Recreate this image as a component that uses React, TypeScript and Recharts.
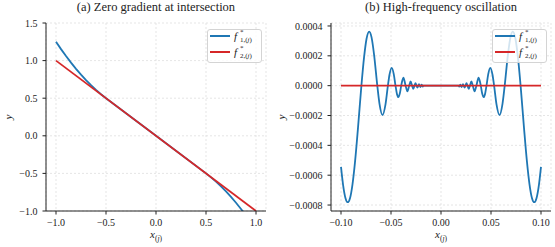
import React from 'react';
import { LineChart, Line, XAxis, YAxis, CartesianGrid, Legend, Label } from 'recharts';

const BLUE = '#1f77b4';
const RED = '#d62728';
const FONT = '"Liberation Serif", "Times New Roman", serif';

// (a) Zero gradient at intersection
const xA1 = [-1, -0.95, -0.9, -0.85, -0.8, -0.75, -0.7, -0.65, -0.6, -0.55, -0.5, 0, 0.5, 0.55, 0.6, 0.65, 0.7, 0.75, 0.8, 0.85, 0.9, 0.95, 1];
const yA1 = [1.25, 1.1525, 1.06, 0.9725, 0.89, 0.8125, 0.74, 0.6725, 0.61, 0.5525, 0.5, 0, -0.5, -0.5525, -0.61, -0.6725, -0.74, -0.8125, -0.89, -0.9725, -1.06, -1.1525, -1.25];
const xA2 = [-1, 1];
const yA2 = [1, -1];
const xTicksA = [-1, -0.5, 0, 0.5, 1];
const yTicksA = [-1, -0.5, 0, 0.5, 1, 1.5];

// (b) High-frequency oscillation
const xB1 = [
  -0.1, -0.098, -0.0955, -0.0933, -0.091, -0.0885, -0.086, -0.083, -0.0796, -0.077, -0.0745, -0.0718,
  -0.0695, -0.067, -0.0637, -0.0615, -0.0585, -0.0555, -0.0531, -0.0515, -0.0493, -0.0472, -0.0455, -0.044,
  -0.0427, -0.0412, -0.0398, -0.0376, -0.0354, -0.0336, -0.0318, -0.0304, -0.0289, -0.0277, -0.0265, -0.0255,
  -0.0245, -0.0236, -0.0227, -0.022, -0.0212, -0.0206, -0.0199, -0.0193, -0.0187, -0.0182, -0.0177, -0.01,
  0,
  0.01, 0.0177, 0.0182, 0.0187, 0.0193, 0.0199, 0.0206, 0.0212, 0.022, 0.0227, 0.0236, 0.0245,
  0.0255, 0.0265, 0.0277, 0.0289, 0.0304, 0.0318, 0.0336, 0.0354, 0.0376, 0.0398, 0.0412, 0.0427,
  0.044, 0.0455, 0.0472, 0.0493, 0.0515, 0.0531, 0.0555, 0.0585, 0.0615, 0.0637, 0.067, 0.0695,
  0.0718, 0.0745, 0.077, 0.0796, 0.083, 0.086, 0.0885, 0.091, 0.0933, 0.0955, 0.098, 0.1,
];
const yB1 = [
  -5.44e-4, -6.61e-4, -7.54e-4, -7.81e-4, -7.54e-4, -6.61e-4, -5.13e-4, -2.83e-4, 0, 1.86e-4, 3.13e-4, 3.62e-4,
  3.25e-4, 2.12e-4, 0, -1.22e-4, -1.97e-4, -1.26e-4, 0, 7.3e-5, 1.19e-4, 7.6e-5, 0, -5.7e-5,
  -7.7e-5, -5.3e-5, 0, 5.3e-5, 0, -3.8e-5, 0, 2.8e-5, 0, -2.1e-5, 0, 1.7e-5,
  0, -1.3e-5, 0, 1.1e-5, 0, -9e-6, 0, 7e-6, 0, -6e-6, 0, 0,
  0,
  0, 0, -6e-6, 0, 7e-6, 0, -9e-6, 0, 1.1e-5, 0, -1.3e-5, 0,
  1.7e-5, 0, -2.1e-5, 0, 2.8e-5, 0, -3.8e-5, 0, 5.3e-5, 0, -5.3e-5, -7.7e-5,
  -5.7e-5, 0, 7.6e-5, 1.19e-4, 7.3e-5, 0, -1.26e-4, -1.97e-4, -1.22e-4, 0, 2.12e-4, 3.25e-4,
  3.62e-4, 3.13e-4, 1.86e-4, 0, -2.83e-4, -5.13e-4, -6.61e-4, -7.54e-4, -7.81e-4, -7.54e-4, -6.61e-4, -5.44e-4,
];
const xB2 = [-0.1, 0.1];
const yB2 = [0, 0];
const xTicksB = [-0.1, -0.05, 0, 0.05, 0.1];
const yTicksB = [-0.0008, -0.0006, -0.0004, -0.0002, 0, 0.0002, 0.0004];

const zip = (xs: number[], ys: number[]) => xs.map((x, i) => ({ x, y: ys[i] }));

const fmt = (d: number) => (v: number) => (v < 0 ? '\u2212' + Math.abs(v).toFixed(d) : v.toFixed(d));

const tickStyle = { fill: '#222', fontSize: 10, fontFamily: FONT };

function LegendBox({ payload }: any) {
  return (
    <div
      style={{
        background: 'rgba(255,255,255,0.8)',
        border: '1px solid #d4d4d4',
        borderRadius: 3,
        height: 32,
        fontFamily: FONT,
        color: '#222',
      }}
    >
      {(payload || []).map((e: any, i: number) => (
        <div key={i} style={{ position: 'relative', height: 16 }}>
          <div style={{ position: 'absolute', left: 2, top: 5, width: 20, height: 2, background: e.color }} />
          <div style={{ position: 'absolute', left: 26, top: 0, width: 28, height: 16, lineHeight: 1 }}>
            <span style={{ position: 'absolute', left: 0, top: 1, fontSize: 11, fontStyle: 'italic' }}>f</span>
            <span style={{ position: 'absolute', left: 6, top: -1, fontSize: 7 }}>*</span>
            <span style={{ position: 'absolute', left: 6, top: 7, fontSize: 7, whiteSpace: 'nowrap' }}>
              {i + 1},(<i>j</i>)
            </span>
          </div>
        </div>
      ))}
    </div>
  );
}

function Panel(props: {
  left: number;
  width: number;
  yAxisWidth: number;
  marginRight: number;
  title: string;
  s1: { x: number; y: number }[];
  s2: { x: number; y: number }[];
  xDomain: [number, number];
  yDomain: [number, number];
  xTicks: number[];
  yTicks: number[];
  xDec: number;
  yDec: number;
  curve: 'linear' | 'monotone';
  legendLeft: number;
  yLabelX: number;
}) {
  const p = props;
  const plotW = p.width - p.yAxisWidth - p.marginRight;
  return (
    <div style={{ position: 'absolute', left: p.left, top: 0, width: p.width, height: 247 }}>
      <div
        style={{
          position: 'absolute',
          left: p.yAxisWidth,
          width: plotW,
          top: 0,
          textAlign: 'center',
          fontSize: 12.5,
          lineHeight: '14px',
          fontFamily: FONT,
          color: '#222',
          whiteSpace: 'nowrap',
        }}
      >
        {p.title}
      </div>
      <LineChart width={p.width} height={247} margin={{ top: 23, right: p.marginRight, bottom: 0, left: 0 }}>
        <CartesianGrid stroke="#dedede" strokeWidth={0.8} strokeDasharray="2 2" />
        <XAxis
          dataKey="x"
          type="number"
          domain={p.xDomain}
          ticks={p.xTicks}
          allowDataOverflow
          height={36}
          tickFormatter={fmt(p.xDec)}
          tick={tickStyle}
          tickSize={3.5}
          tickMargin={4}
          axisLine={{ stroke: '#222' }}
          tickLine={{ stroke: '#222' }}
        >
          <Label
            content={({ viewBox }: any) => (
              <text
                x={viewBox.x + viewBox.width / 2}
                y={238}
                textAnchor="middle"
                fontFamily={FONT}
                fill="#222"
                fontSize={11}
              >
                <tspan fontStyle="italic">x</tspan>
                <tspan fontSize={7.5} dy={2.5}>(</tspan>
                <tspan fontSize={7.5} fontStyle="italic">j</tspan>
                <tspan fontSize={7.5}>)</tspan>
              </text>
            )}
          />
        </XAxis>
        <XAxis
          xAxisId="top"
          orientation="top"
          type="number"
          domain={p.xDomain}
          allowDataOverflow
          height={0}
          tick={false}
          tickLine={false}
          axisLine={{ stroke: '#333' }}
        />
        <YAxis
          type="number"
          domain={p.yDomain}
          ticks={p.yTicks}
          allowDataOverflow
          width={p.yAxisWidth}
          tickFormatter={fmt(p.yDec)}
          tick={tickStyle}
          tickSize={3.5}
          tickMargin={5}
          axisLine={{ stroke: '#222' }}
          tickLine={{ stroke: '#222' }}
        >
          <Label
            content={({ viewBox }: any) => {
              const cy = viewBox.y + viewBox.height / 2;
              return (
                <text
                  x={p.yLabelX}
                  y={cy}
                  textAnchor="middle"
                  transform={`rotate(-90 ${p.yLabelX} ${cy})`}
                  fontFamily={FONT}
                  fontStyle="italic"
                  fill="#222"
                  fontSize={11}
                >
                  y
                </text>
              );
            }}
          />
        </YAxis>
        <YAxis
          yAxisId="right"
          orientation="right"
          type="number"
          domain={p.yDomain}
          allowDataOverflow
          width={0}
          tick={false}
          tickLine={false}
          axisLine={{ stroke: '#333' }}
        />
        <Line
          data={p.s1}
          dataKey="y"
          name="f1"
          type={p.curve}
          stroke={BLUE}
          strokeWidth={1.8}
          dot={false}
          isAnimationActive={false}
        />
        <Line
          data={p.s2}
          dataKey="y"
          name="f2"
          type="linear"
          stroke={RED}
          strokeWidth={1.8}
          dot={false}
          isAnimationActive={false}
        />
        <Legend
          layout="vertical"
          align="center"
          verticalAlign="middle"
          wrapperStyle={{ top: 29, left: p.legendLeft, width: 55, height: 34 }}
          content={<LegendBox />}
        />
      </LineChart>
    </div>
  );
}

export default function App() {
  return (
    <div style={{ position: 'absolute', left: 0, top: 0, width: 555, height: 247, background: '#fff' }}>
      <Panel
        left={0}
        width={277}
        yAxisWidth={46}
        marginRight={11}
        title="(a) Zero gradient at intersection"
        s1={zip(xA1, yA1)}
        s2={zip(xA2, yA2)}
        xDomain={[-1.1, 1.1]}
        yDomain={[-1, 1.5]}
        xTicks={xTicksA}
        yTicks={yTicksA}
        xDec={1}
        yDec={1}
        curve="linear"
        legendLeft={207}
        yLabelX={12}
      />
      <Panel
        left={268}
        width={287}
        yAxisWidth={63}
        marginRight={4}
        title="(b) High-frequency oscillation"
        s1={zip(xB1, yB1)}
        s2={zip(xB2, yB2)}
        xDomain={[-0.11, 0.11]}
        yDomain={[-0.00084, 0.00042]}
        xTicks={xTicksB}
        yTicks={yTicksB}
        xDec={2}
        yDec={4}
        curve="monotone"
        legendLeft={224}
        yLabelX={17}
      />
    </div>
  );
}
